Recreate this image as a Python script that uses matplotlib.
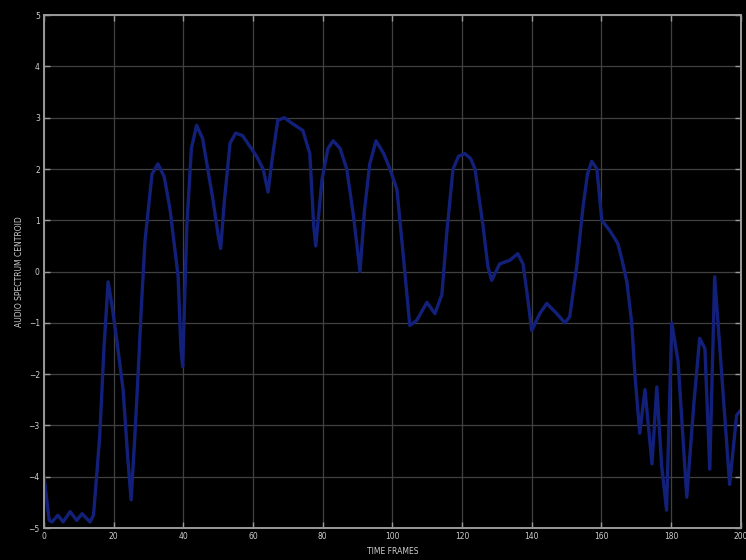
import matplotlib
matplotlib.use("Agg")
import matplotlib.pyplot as plt

# audio spectrum centroid per frame
frames = [0, 1.5, 2.3, 4, 5.5, 7.5, 9.4, 10.9, 13.2, 14.2, 15.2, 16, 17.2, 18.4,
          19.6, 21, 22.7, 24, 25, 26, 27, 28, 29, 31, 32.7, 34.5, 36.2, 38.5,
          39.3, 39.8, 41, 42.3, 43.8, 45.5, 47, 48.5, 50, 50.7, 51.8, 53.4, 55,
          57, 59, 61, 62.9, 64.3, 65.5, 67.1, 69, 71, 74.3, 76.3, 77.4, 78,
          79.8, 81.5, 83, 85, 86.9, 88.8, 90.7, 92, 93.5, 95.3, 97.5, 99.3,
          101.3, 103, 105, 107, 109.9, 112.2, 114.2, 115.6, 117.4, 119, 120.8,
          122.5, 123.7, 126, 127.4, 128.5, 130.8, 133.7, 136, 137.5, 138.9, 140,
          142.3, 144.3, 147.2, 149.5, 150.9, 152.9, 154.7, 156, 157.2, 158.7,
          160.1, 162.4, 164.7, 166, 167.3, 168.7, 169.6, 171, 172.5, 174.5,
          175.9, 177.3, 178.7, 180.2, 182, 184.5, 186.5, 188.2, 189.7, 191.1,
          192.5, 194, 196.8, 198.8, 200]
centroid = [-4.0, -4.85, -4.88, -4.75, -4.88, -4.68, -4.85, -4.72, -4.88, -4.75,
            -3.9, -3.2, -1.5, -0.2, -0.7, -1.4, -2.3, -3.6, -4.45, -3.3, -2.0,
            -0.6, 0.6, 1.9, 2.1, 1.85, 1.2, -0.1, -1.5, -1.85, 0.9, 2.4, 2.85,
            2.6, 2.0, 1.4, 0.7, 0.45, 1.4, 2.5, 2.7, 2.65, 2.45, 2.25, 2.0, 1.55,
            2.2, 2.95, 3.0, 2.9, 2.75, 2.3, 0.9, 0.5, 1.8, 2.4, 2.55, 2.4, 2.0,
            1.1, 0.0, 1.2, 2.1, 2.55, 2.3, 2.0, 1.6, 0.4, -1.05, -0.95, -0.6,
            -0.82, -0.45, 0.75, 2.0, 2.25, 2.3, 2.2, 2.0, 0.9, 0.1, -0.17, 0.15,
            0.22, 0.35, 0.15, -0.55, -1.15, -0.82, -0.62, -0.82, -1.0, -0.88,
            0.1, 1.25, 1.9, 2.15, 2.0, 1.0, 0.8, 0.55, 0.2, -0.2, -1.0, -2.0,
            -3.15, -2.3, -3.75, -2.25, -3.8, -4.65, -1.0, -1.75, -4.4, -2.6,
            -1.3, -1.5, -3.85, -0.1, -1.5, -4.15, -2.8, -2.7]

xticks = list(range(0, 201, 20))
yticks = list(range(-5, 6))

fig = plt.figure(figsize=(7.46, 5.6), dpi=100, facecolor="black")
ax = fig.add_axes([0.059, 0.057, 0.934, 0.916], facecolor="black")

ax.plot(frames, centroid, color="#13207a", linewidth=2.4)

ax.set_xlim(0, 200)
ax.set_ylim(-5, 5)
ax.set_xticks(xticks)
ax.set_yticks(yticks)
ax.grid(True, color="#404040", linewidth=0.9, linestyle="-")
ax.set_axisbelow(True)

for s in ax.spines.values():
    s.set_color("#9a9a9a")
    s.set_linewidth(1.4)
ax.tick_params(direction="in", length=4, width=1, colors="#9a9a9a",
               labelcolor="#cfcfcf", labelsize=5.5, pad=3,
               top=True, right=True)

ax.set_xlabel("TIME FRAMES", color="#cfcfcf", fontsize=5.5, labelpad=4)
ax.set_ylabel("AUDIO SPECTRUM CENTROID", color="#cfcfcf", fontsize=5.5, labelpad=3)

fig.savefig("out.png", dpi=100, facecolor="black")
